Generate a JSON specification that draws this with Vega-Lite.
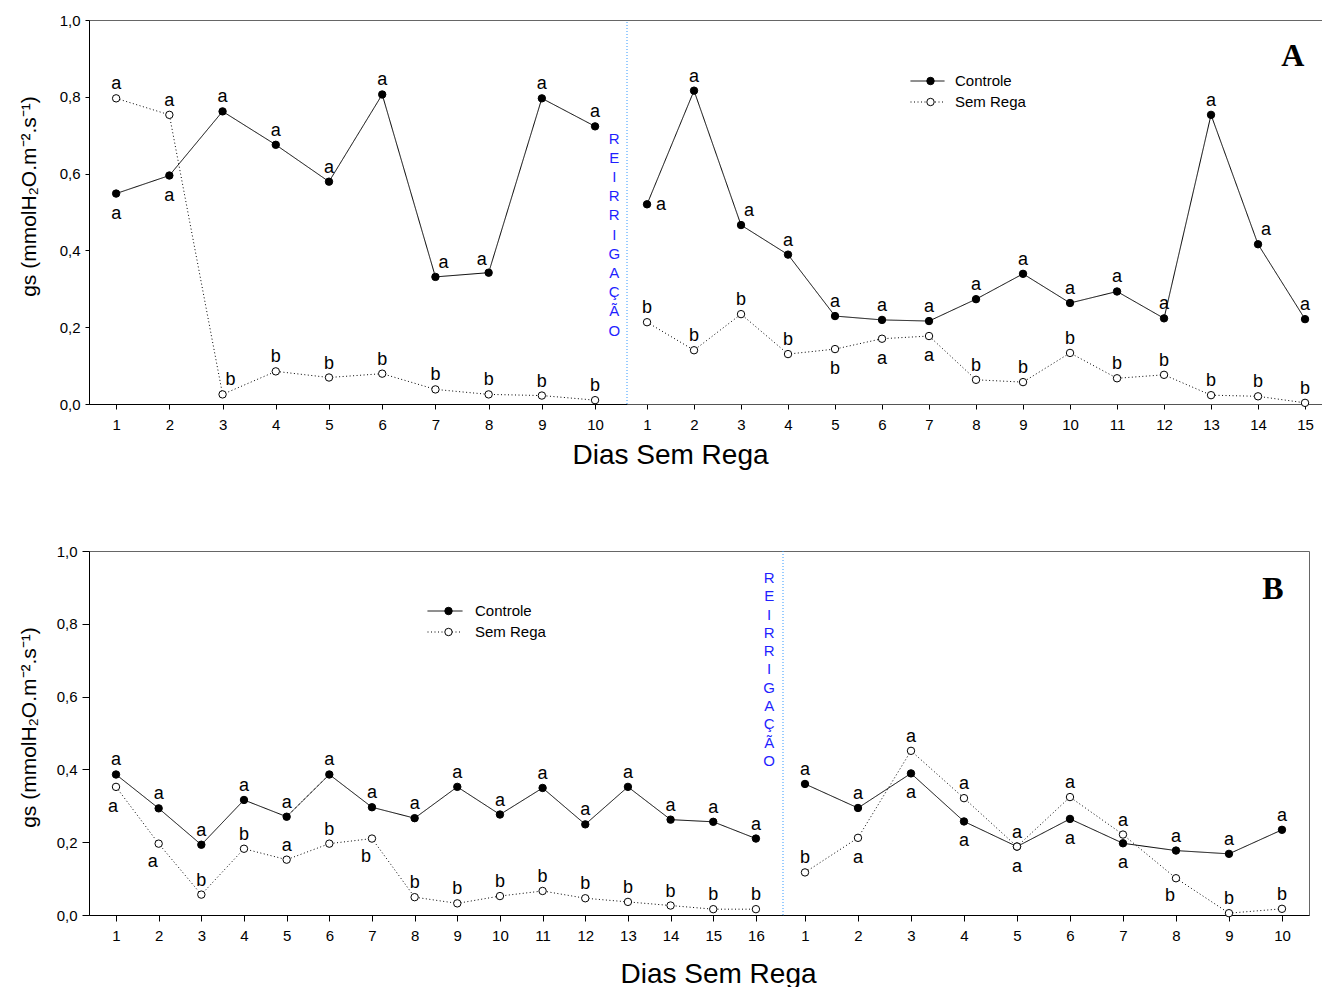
{
  "$schema": "https://vega.github.io/schema/vega-lite/v6.json",
  "padding": {"left": 17, "top": 12, "right": 0, "bottom": 0},
  "spacing": 73,
  "config": {
    "font": "Liberation Sans",
    "view": {"stroke": "#666", "strokeWidth": 1},
    "axis": {"grid": false, "domainColor": "black", "tickColor": "black", "labelColor": "black", "titleColor": "black", "labelFontSize": 15, "titleFontWeight": "normal", "labelFlush": false, "labelOverlap": false, "labelFont": "Liberation Sans", "titleFont": "Liberation Sans"},
    "text": {"color": "black", "font": "Liberation Sans"}
  },
  "datasets": {
    "d": [
      {"p":"A","f":"s","dia":1,"serie":"Controle","gs":0.548,"letra":"a","pos":"below"},
      {"p":"A","f":"s","dia":2,"serie":"Controle","gs":0.595,"letra":"a","pos":"below"},
      {"p":"A","f":"s","dia":3,"serie":"Controle","gs":0.762,"letra":"a","pos":"above"},
      {"p":"A","f":"s","dia":4,"serie":"Controle","gs":0.675,"letra":"a","pos":"above"},
      {"p":"A","f":"s","dia":5,"serie":"Controle","gs":0.579,"letra":"a","pos":"above"},
      {"p":"A","f":"s","dia":6,"serie":"Controle","gs":0.806,"letra":"a","pos":"above"},
      {"p":"A","f":"s","dia":7,"serie":"Controle","gs":0.331,"letra":"a","pos":"aboveright"},
      {"p":"A","f":"s","dia":8,"serie":"Controle","gs":0.342,"letra":"a","pos":"aboveleft"},
      {"p":"A","f":"s","dia":9,"serie":"Controle","gs":0.796,"letra":"a","pos":"above"},
      {"p":"A","f":"s","dia":10,"serie":"Controle","gs":0.723,"letra":"a","pos":"above"},
      {"p":"A","f":"s","dia":1,"serie":"Sem Rega","gs":0.796,"letra":"a","pos":"above"},
      {"p":"A","f":"s","dia":2,"serie":"Sem Rega","gs":0.753,"letra":"a","pos":"above"},
      {"p":"A","f":"s","dia":3,"serie":"Sem Rega","gs":0.025,"letra":"b","pos":"aboveright"},
      {"p":"A","f":"s","dia":4,"serie":"Sem Rega","gs":0.085,"letra":"b","pos":"above"},
      {"p":"A","f":"s","dia":5,"serie":"Sem Rega","gs":0.069,"letra":"b","pos":"above"},
      {"p":"A","f":"s","dia":6,"serie":"Sem Rega","gs":0.079,"letra":"b","pos":"above"},
      {"p":"A","f":"s","dia":7,"serie":"Sem Rega","gs":0.038,"letra":"b","pos":"above"},
      {"p":"A","f":"s","dia":8,"serie":"Sem Rega","gs":0.025,"letra":"b","pos":"above"},
      {"p":"A","f":"s","dia":9,"serie":"Sem Rega","gs":0.022,"letra":"b","pos":"above"},
      {"p":"A","f":"s","dia":10,"serie":"Sem Rega","gs":0.010,"letra":"b","pos":"above"},
      {"p":"A","f":"r","dia":1,"serie":"Controle","gs":0.520,"letra":"a","pos":"right"},
      {"p":"A","f":"r","dia":2,"serie":"Controle","gs":0.816,"letra":"a","pos":"above"},
      {"p":"A","f":"r","dia":3,"serie":"Controle","gs":0.466,"letra":"a","pos":"aboveright"},
      {"p":"A","f":"r","dia":4,"serie":"Controle","gs":0.389,"letra":"a","pos":"above"},
      {"p":"A","f":"r","dia":5,"serie":"Controle","gs":0.229,"letra":"a","pos":"above"},
      {"p":"A","f":"r","dia":6,"serie":"Controle","gs":0.219,"letra":"a","pos":"above"},
      {"p":"A","f":"r","dia":7,"serie":"Controle","gs":0.216,"letra":"a","pos":"above"},
      {"p":"A","f":"r","dia":8,"serie":"Controle","gs":0.273,"letra":"a","pos":"above"},
      {"p":"A","f":"r","dia":9,"serie":"Controle","gs":0.339,"letra":"a","pos":"above"},
      {"p":"A","f":"r","dia":10,"serie":"Controle","gs":0.263,"letra":"a","pos":"above"},
      {"p":"A","f":"r","dia":11,"serie":"Controle","gs":0.293,"letra":"a","pos":"above"},
      {"p":"A","f":"r","dia":12,"serie":"Controle","gs":0.223,"letra":"a","pos":"above"},
      {"p":"A","f":"r","dia":13,"serie":"Controle","gs":0.753,"letra":"a","pos":"above"},
      {"p":"A","f":"r","dia":14,"serie":"Controle","gs":0.416,"letra":"a","pos":"aboveright"},
      {"p":"A","f":"r","dia":15,"serie":"Controle","gs":0.221,"letra":"a","pos":"above"},
      {"p":"A","f":"r","dia":1,"serie":"Sem Rega","gs":0.213,"letra":"b","pos":"above"},
      {"p":"A","f":"r","dia":2,"serie":"Sem Rega","gs":0.140,"letra":"b","pos":"above"},
      {"p":"A","f":"r","dia":3,"serie":"Sem Rega","gs":0.234,"letra":"b","pos":"above"},
      {"p":"A","f":"r","dia":4,"serie":"Sem Rega","gs":0.130,"letra":"b","pos":"above"},
      {"p":"A","f":"r","dia":5,"serie":"Sem Rega","gs":0.143,"letra":"b","pos":"below"},
      {"p":"A","f":"r","dia":6,"serie":"Sem Rega","gs":0.170,"letra":"a","pos":"below"},
      {"p":"A","f":"r","dia":7,"serie":"Sem Rega","gs":0.177,"letra":"a","pos":"below"},
      {"p":"A","f":"r","dia":8,"serie":"Sem Rega","gs":0.063,"letra":"b","pos":"above"},
      {"p":"A","f":"r","dia":9,"serie":"Sem Rega","gs":0.057,"letra":"b","pos":"above"},
      {"p":"A","f":"r","dia":10,"serie":"Sem Rega","gs":0.133,"letra":"b","pos":"above"},
      {"p":"A","f":"r","dia":11,"serie":"Sem Rega","gs":0.067,"letra":"b","pos":"above"},
      {"p":"A","f":"r","dia":12,"serie":"Sem Rega","gs":0.076,"letra":"b","pos":"above"},
      {"p":"A","f":"r","dia":13,"serie":"Sem Rega","gs":0.023,"letra":"b","pos":"above"},
      {"p":"A","f":"r","dia":14,"serie":"Sem Rega","gs":0.020,"letra":"b","pos":"above"},
      {"p":"A","f":"r","dia":15,"serie":"Sem Rega","gs":0.003,"letra":"b","pos":"above"},
      {"p":"B","f":"s","dia":1,"serie":"Controle","gs":0.386,"letra":"a","pos":"above"},
      {"p":"B","f":"s","dia":2,"serie":"Controle","gs":0.293,"letra":"a","pos":"above"},
      {"p":"B","f":"s","dia":3,"serie":"Controle","gs":0.193,"letra":"a","pos":"above"},
      {"p":"B","f":"s","dia":4,"serie":"Controle","gs":0.316,"letra":"a","pos":"above"},
      {"p":"B","f":"s","dia":5,"serie":"Controle","gs":0.270,"letra":"a","pos":"above"},
      {"p":"B","f":"s","dia":6,"serie":"Controle","gs":0.386,"letra":"a","pos":"above"},
      {"p":"B","f":"s","dia":7,"serie":"Controle","gs":0.296,"letra":"a","pos":"above"},
      {"p":"B","f":"s","dia":8,"serie":"Controle","gs":0.266,"letra":"a","pos":"above"},
      {"p":"B","f":"s","dia":9,"serie":"Controle","gs":0.352,"letra":"a","pos":"above"},
      {"p":"B","f":"s","dia":10,"serie":"Controle","gs":0.276,"letra":"a","pos":"above"},
      {"p":"B","f":"s","dia":11,"serie":"Controle","gs":0.349,"letra":"a","pos":"above"},
      {"p":"B","f":"s","dia":12,"serie":"Controle","gs":0.249,"letra":"a","pos":"above"},
      {"p":"B","f":"s","dia":13,"serie":"Controle","gs":0.352,"letra":"a","pos":"above"},
      {"p":"B","f":"s","dia":14,"serie":"Controle","gs":0.262,"letra":"a","pos":"above"},
      {"p":"B","f":"s","dia":15,"serie":"Controle","gs":0.256,"letra":"a","pos":"above"},
      {"p":"B","f":"s","dia":16,"serie":"Controle","gs":0.210,"letra":"a","pos":"above"},
      {"p":"B","f":"s","dia":1,"serie":"Sem Rega","gs":0.352,"letra":"a","pos":"below"},
      {"p":"B","f":"s","dia":2,"serie":"Sem Rega","gs":0.196,"letra":"a","pos":"belowleft"},
      {"p":"B","f":"s","dia":3,"serie":"Sem Rega","gs":0.056,"letra":"b","pos":"above"},
      {"p":"B","f":"s","dia":4,"serie":"Sem Rega","gs":0.182,"letra":"b","pos":"above"},
      {"p":"B","f":"s","dia":5,"serie":"Sem Rega","gs":0.152,"letra":"a","pos":"above"},
      {"p":"B","f":"s","dia":6,"serie":"Sem Rega","gs":0.196,"letra":"b","pos":"above"},
      {"p":"B","f":"s","dia":7,"serie":"Sem Rega","gs":0.210,"letra":"b","pos":"belowleft"},
      {"p":"B","f":"s","dia":8,"serie":"Sem Rega","gs":0.049,"letra":"b","pos":"above"},
      {"p":"B","f":"s","dia":9,"serie":"Sem Rega","gs":0.032,"letra":"b","pos":"above"},
      {"p":"B","f":"s","dia":10,"serie":"Sem Rega","gs":0.052,"letra":"b","pos":"above"},
      {"p":"B","f":"s","dia":11,"serie":"Sem Rega","gs":0.066,"letra":"b","pos":"above"},
      {"p":"B","f":"s","dia":12,"serie":"Sem Rega","gs":0.046,"letra":"b","pos":"above"},
      {"p":"B","f":"s","dia":13,"serie":"Sem Rega","gs":0.036,"letra":"b","pos":"above"},
      {"p":"B","f":"s","dia":14,"serie":"Sem Rega","gs":0.026,"letra":"b","pos":"above"},
      {"p":"B","f":"s","dia":15,"serie":"Sem Rega","gs":0.016,"letra":"b","pos":"above"},
      {"p":"B","f":"s","dia":16,"serie":"Sem Rega","gs":0.016,"letra":"b","pos":"above"},
      {"p":"B","f":"r","dia":1,"serie":"Controle","gs":0.360,"letra":"a","pos":"above"},
      {"p":"B","f":"r","dia":2,"serie":"Controle","gs":0.294,"letra":"a","pos":"above"},
      {"p":"B","f":"r","dia":3,"serie":"Controle","gs":0.389,"letra":"a","pos":"below"},
      {"p":"B","f":"r","dia":4,"serie":"Controle","gs":0.257,"letra":"a","pos":"below"},
      {"p":"B","f":"r","dia":5,"serie":"Controle","gs":0.188,"letra":"a","pos":"below"},
      {"p":"B","f":"r","dia":6,"serie":"Controle","gs":0.264,"letra":"a","pos":"below"},
      {"p":"B","f":"r","dia":7,"serie":"Controle","gs":0.197,"letra":"a","pos":"below"},
      {"p":"B","f":"r","dia":8,"serie":"Controle","gs":0.177,"letra":"a","pos":"above"},
      {"p":"B","f":"r","dia":9,"serie":"Controle","gs":0.168,"letra":"a","pos":"above"},
      {"p":"B","f":"r","dia":10,"serie":"Controle","gs":0.234,"letra":"a","pos":"above"},
      {"p":"B","f":"r","dia":1,"serie":"Sem Rega","gs":0.117,"letra":"b","pos":"above"},
      {"p":"B","f":"r","dia":2,"serie":"Sem Rega","gs":0.212,"letra":"a","pos":"below"},
      {"p":"B","f":"r","dia":3,"serie":"Sem Rega","gs":0.451,"letra":"a","pos":"above"},
      {"p":"B","f":"r","dia":4,"serie":"Sem Rega","gs":0.321,"letra":"a","pos":"above"},
      {"p":"B","f":"r","dia":5,"serie":"Sem Rega","gs":0.188,"letra":"a","pos":"above"},
      {"p":"B","f":"r","dia":6,"serie":"Sem Rega","gs":0.324,"letra":"a","pos":"above"},
      {"p":"B","f":"r","dia":7,"serie":"Sem Rega","gs":0.221,"letra":"a","pos":"above"},
      {"p":"B","f":"r","dia":8,"serie":"Sem Rega","gs":0.101,"letra":"b","pos":"belowleft"},
      {"p":"B","f":"r","dia":9,"serie":"Sem Rega","gs":0.005,"letra":"b","pos":"above"},
      {"p":"B","f":"r","dia":10,"serie":"Sem Rega","gs":0.017,"letra":"b","pos":"above"}
    ]
  },
  "data": {"name": "d"},
  "resolve": {"scale": {"fill": "independent", "strokeDash": "independent"}, "legend": {"fill": "independent", "strokeDash": "independent"}},
  "vconcat": [
    {
      "width": 1233,
      "height": 384,
      "resolve": {"scale": {"x": "independent"}, "axis": {"x": "independent"}},
      "encoding": {"y": {"field": "gs", "type": "quantitative", "scale": {"domain": [0, 1]}, "axis": {"values": [0, 0.2, 0.4, 0.6, 0.8, 1], "labelExpr": "replace(format(datum.value,'.1f'),'.',',')", "title": "gs (mmolH₂O.m⁻².s⁻¹)", "titleFontSize": 21, "titlePadding": 20, "titleY": 176, "tickSize": 4, "labelPadding": 5, "labelFontSize": 15}}},
      "layer": [
        {
          "encoding": {"x": {"field": "dia", "type": "quantitative", "scale": {"domain": [0.49, 10.6], "range": [0, 538], "nice": false, "zero": false}, "axis": {"orient": "bottom", "values": [1,2,3,4,5,6,7,8,9,10], "format": "d", "tickSize": 5, "labelPadding": 8, "labelFontSize": 15, "title": "Dias Sem Rega", "titleFontSize": 28, "titleX": 581, "titlePadding": 9}}},
          "layer": [
            {"transform": [{"filter": "datum.p=='A' && datum.f=='s' && datum.dia==1 && datum.serie=='Controle'"}], "mark": {"type": "rule", "color": "#3399ff", "strokeDash": [1, 2], "strokeWidth": 1}, "encoding": {"x": {"datum": 10.6, "axis": {"title": "Dias Sem Rega"}}, "y": {"datum": 0, "axis": {"title": "gs (mmolH₂O.m⁻².s⁻¹)"}}, "y2": {"datum": 1}}},
            {"transform": [{"filter": "datum.p=='A' && datum.f=='s' && datum.dia==1 && datum.serie=='Controle'"}], "mark": {"type": "text", "text": ["R","E","I","R","R","I","G","A","Ç","Ã","O"], "lineHeight": 19.2, "fontSize": 15, "color": "#1f1fff", "align": "center", "baseline": "middle"}, "encoding": {"x": {"datum": 10.36, "axis": {"title": "Dias Sem Rega"}}, "y": {"datum": 0.691, "axis": {"title": "gs (mmolH₂O.m⁻².s⁻¹)"}}}},
            {"transform": [{"filter": "datum.p=='A' && datum.f=='s'"}], "mark": {"type": "line", "color": "black", "strokeWidth": 1}, "encoding": {"strokeDash": {"field": "serie", "type": "nominal", "scale": {"domain": ["Sem Rega", "Controle"], "range": [[1, 2.5], [1, 0]]}, "legend": {"title": null, "orient": "none", "legendX": 821, "legendY": 54, "clipHeight": 14, "rowPadding": 6, "padding": 0, "labelFontSize": 15, "labelOffset": 10, "labelColor": "black", "symbolType": "stroke", "symbolSize": 1156, "symbolStrokeWidth": 1, "symbolStrokeColor": "black", "values": ["Controle", "Sem Rega"], "zindex": 0}}}},
            {"transform": [{"filter": "datum.p=='A' && datum.f=='s'"}], "mark": {"type": "point", "shape": "circle", "filled": true, "stroke": "black", "strokeWidth": 1, "size": 55, "opacity": 1}, "encoding": {"fill": {"field": "serie", "type": "nominal", "scale": {"domain": ["Controle", "Sem Rega"], "range": ["black", "white"]}, "legend": {"title": null, "orient": "none", "legendX": 834, "legendY": 54, "clipHeight": 14, "rowPadding": 6, "padding": 0, "labelFontSize": 15, "labelOpacity": 0, "labelExpr": "''", "symbolType": "circle", "symbolSize": 55, "symbolStrokeWidth": 1, "symbolStrokeColor": "black", "symbolOpacity": 1, "zindex": 1}}}},
            {"transform": [{"filter": "datum.p=='A' && datum.f=='s' && datum.pos=='above'"}], "mark": {"type": "text", "fontSize": 18, "baseline": "alphabetic", "dy": -9}, "encoding": {"text": {"field": "letra"}}},
            {"transform": [{"filter": "datum.p=='A' && datum.f=='s' && datum.pos=='below'"}], "mark": {"type": "text", "fontSize": 18, "baseline": "alphabetic", "dy": 25}, "encoding": {"text": {"field": "letra"}}},
            {"transform": [{"filter": "datum.p=='A' && datum.f=='s' && datum.pos=='aboveright'"}], "mark": {"type": "text", "fontSize": 18, "baseline": "alphabetic", "dx": 8, "dy": -9}, "encoding": {"text": {"field": "letra"}}},
            {"transform": [{"filter": "datum.p=='A' && datum.f=='s' && datum.pos=='aboveleft'"}], "mark": {"type": "text", "fontSize": 18, "baseline": "alphabetic", "dx": -7, "dy": -8}, "encoding": {"text": {"field": "letra"}}}
          ]
        },
        {
          "encoding": {"x": {"field": "dia", "type": "quantitative", "scale": {"domain": [0.574, 15.361], "range": [538, 1233], "nice": false, "zero": false}, "axis": {"orient": "bottom", "values": [1,2,3,4,5,6,7,8,9,10,11,12,13,14,15], "format": "d", "tickSize": 5, "labelPadding": 8, "labelFontSize": 15, "title": null, "domainColor": "#555"}}},
          "layer": [
            {"transform": [{"filter": "datum.p=='A' && datum.f=='r' && datum.dia==1 && datum.serie=='Controle'"}], "mark": {"type": "text", "text": "A", "font": "Liberation Serif", "fontWeight": "bold", "fontSize": 32, "align": "center", "baseline": "middle"}, "encoding": {"x": {"datum": 14.74, "axis": {"title": null}}, "y": {"datum": 0.907, "axis": {"title": "gs (mmolH₂O.m⁻².s⁻¹)"}}}},
            {"transform": [{"filter": "datum.p=='A' && datum.f=='r'"}], "mark": {"type": "line", "color": "black", "strokeWidth": 1}, "encoding": {"strokeDash": {"field": "serie", "type": "nominal", "scale": {"domain": ["Sem Rega", "Controle"], "range": [[1, 2.5], [1, 0]]}, "legend": {"title": null, "orient": "none", "legendX": 821, "legendY": 54, "clipHeight": 14, "rowPadding": 6, "padding": 0, "labelFontSize": 15, "labelOffset": 10, "labelColor": "black", "symbolType": "stroke", "symbolSize": 1156, "symbolStrokeWidth": 1, "symbolStrokeColor": "black", "values": ["Controle", "Sem Rega"], "zindex": 0}}}},
            {"transform": [{"filter": "datum.p=='A' && datum.f=='r'"}], "mark": {"type": "point", "shape": "circle", "filled": true, "stroke": "black", "strokeWidth": 1, "size": 55, "opacity": 1}, "encoding": {"fill": {"field": "serie", "type": "nominal", "scale": {"domain": ["Controle", "Sem Rega"], "range": ["black", "white"]}, "legend": {"title": null, "orient": "none", "legendX": 834, "legendY": 54, "clipHeight": 14, "rowPadding": 6, "padding": 0, "labelFontSize": 15, "labelOpacity": 0, "labelExpr": "''", "symbolType": "circle", "symbolSize": 55, "symbolStrokeWidth": 1, "symbolStrokeColor": "black", "symbolOpacity": 1, "zindex": 1}}}},
            {"transform": [{"filter": "datum.p=='A' && datum.f=='r' && datum.pos=='above'"}], "mark": {"type": "text", "fontSize": 18, "baseline": "alphabetic", "dy": -9}, "encoding": {"text": {"field": "letra"}}},
            {"transform": [{"filter": "datum.p=='A' && datum.f=='r' && datum.pos=='below'"}], "mark": {"type": "text", "fontSize": 18, "baseline": "alphabetic", "dy": 25}, "encoding": {"text": {"field": "letra"}}},
            {"transform": [{"filter": "datum.p=='A' && datum.f=='r' && datum.pos=='aboveright'"}], "mark": {"type": "text", "fontSize": 18, "baseline": "alphabetic", "dx": 8, "dy": -9}, "encoding": {"text": {"field": "letra"}}},
            {"transform": [{"filter": "datum.p=='A' && datum.f=='r' && datum.pos=='right'"}], "mark": {"type": "text", "fontSize": 18, "baseline": "alphabetic", "dx": 14, "dy": 6}, "encoding": {"text": {"field": "letra"}}}
          ]
        }
      ]
    },
    {
      "width": 1220,
      "height": 364,
      "resolve": {"scale": {"x": "independent"}, "axis": {"x": "independent"}},
      "encoding": {"y": {"field": "gs", "type": "quantitative", "scale": {"domain": [0, 1]}, "axis": {"values": [0, 0.2, 0.4, 0.6, 0.8, 1], "labelExpr": "replace(format(datum.value,'.1f'),'.',',')", "title": "gs (mmolH₂O.m⁻².s⁻¹)", "titleFontSize": 21, "titlePadding": 17, "titleY": 176, "tickSize": 7, "labelPadding": 5, "labelFontSize": 15}}},
      "layer": [
        {
          "encoding": {"x": {"field": "dia", "type": "quantitative", "scale": {"domain": [0.367, 16.635], "range": [0, 694], "nice": false, "zero": false}, "axis": {"orient": "bottom", "values": [1,2,3,4,5,6,7,8,9,10,11,12,13,14,15,16], "format": "d", "tickSize": 6, "labelPadding": 7, "labelFontSize": 15, "title": "Dias Sem Rega", "titleFontSize": 28, "titleX": 629, "titlePadding": 17}}},
          "layer": [
            {"transform": [{"filter": "datum.p=='B' && datum.f=='s' && datum.dia==1 && datum.serie=='Controle'"}], "mark": {"type": "rule", "color": "#3399ff", "strokeDash": [1, 2], "strokeWidth": 1}, "encoding": {"x": {"datum": 16.635, "axis": {"title": "Dias Sem Rega"}}, "y": {"datum": 0, "axis": {"title": "gs (mmolH₂O.m⁻².s⁻¹)"}}, "y2": {"datum": 1}}},
            {"transform": [{"filter": "datum.p=='B' && datum.f=='s' && datum.dia==1 && datum.serie=='Controle'"}], "mark": {"type": "text", "text": ["R","E","I","R","R","I","G","A","Ç","Ã","O"], "lineHeight": 18.3, "fontSize": 15, "color": "#1f1fff", "align": "center", "baseline": "middle"}, "encoding": {"x": {"datum": 16.31, "axis": {"title": "Dias Sem Rega"}}, "y": {"datum": 0.926, "axis": {"title": "gs (mmolH₂O.m⁻².s⁻¹)"}}}},
            {"transform": [{"filter": "datum.p=='B' && datum.f=='s'"}], "mark": {"type": "line", "color": "black", "strokeWidth": 1}, "encoding": {"strokeDash": {"field": "serie", "type": "nominal", "scale": {"domain": ["Sem Rega", "Controle"], "range": [[1, 2.5], [1, 0]]}, "legend": {"title": null, "orient": "none", "legendX": 338, "legendY": 53, "clipHeight": 14, "rowPadding": 6, "padding": 0, "labelFontSize": 15, "labelOffset": 12, "labelColor": "black", "symbolType": "stroke", "symbolSize": 1225, "symbolStrokeWidth": 1, "symbolStrokeColor": "black", "values": ["Controle", "Sem Rega"], "zindex": 0}}}},
            {"transform": [{"filter": "datum.p=='B' && datum.f=='s'"}], "mark": {"type": "point", "shape": "circle", "filled": true, "stroke": "black", "strokeWidth": 1, "size": 55, "opacity": 1}, "encoding": {"fill": {"field": "serie", "type": "nominal", "scale": {"domain": ["Controle", "Sem Rega"], "range": ["black", "white"]}, "legend": {"title": null, "orient": "none", "legendX": 352, "legendY": 53, "clipHeight": 14, "rowPadding": 6, "padding": 0, "labelFontSize": 15, "labelOpacity": 0, "labelExpr": "''", "symbolType": "circle", "symbolSize": 55, "symbolStrokeWidth": 1, "symbolStrokeColor": "black", "symbolOpacity": 1, "zindex": 1}}}},
            {"transform": [{"filter": "datum.p=='B' && datum.f=='s' && datum.pos=='above'"}], "mark": {"type": "text", "fontSize": 18, "baseline": "alphabetic", "dy": -9}, "encoding": {"text": {"field": "letra"}}},
            {"transform": [{"filter": "datum.p=='B' && datum.f=='s' && datum.pos=='below'"}], "mark": {"type": "text", "fontSize": 18, "baseline": "alphabetic", "dx": -3, "dy": 25}, "encoding": {"text": {"field": "letra"}}},
            {"transform": [{"filter": "datum.p=='B' && datum.f=='s' && datum.pos=='belowleft'"}], "mark": {"type": "text", "fontSize": 18, "baseline": "alphabetic", "dx": -6, "dy": 23}, "encoding": {"text": {"field": "letra"}}}
          ]
        },
        {
          "encoding": {"x": {"field": "dia", "type": "quantitative", "scale": {"domain": [0.585, 10.51], "range": [694, 1220], "nice": false, "zero": false}, "axis": {"orient": "bottom", "values": [1,2,3,4,5,6,7,8,9,10], "format": "d", "tickSize": 6, "labelPadding": 7, "labelFontSize": 15, "title": null}}},
          "layer": [
            {"transform": [{"filter": "datum.p=='B' && datum.f=='r' && datum.dia==1 && datum.serie=='Controle'"}], "mark": {"type": "text", "text": "B", "font": "Liberation Serif", "fontWeight": "bold", "fontSize": 32, "align": "center", "baseline": "middle"}, "encoding": {"x": {"datum": 9.83, "axis": {"title": null}}, "y": {"datum": 0.896, "axis": {"title": "gs (mmolH₂O.m⁻².s⁻¹)"}}}},
            {"transform": [{"filter": "datum.p=='B' && datum.f=='r'"}], "mark": {"type": "line", "color": "black", "strokeWidth": 1}, "encoding": {"strokeDash": {"field": "serie", "type": "nominal", "scale": {"domain": ["Sem Rega", "Controle"], "range": [[1, 2.5], [1, 0]]}, "legend": {"title": null, "orient": "none", "legendX": 338, "legendY": 53, "clipHeight": 14, "rowPadding": 6, "padding": 0, "labelFontSize": 15, "labelOffset": 12, "labelColor": "black", "symbolType": "stroke", "symbolSize": 1225, "symbolStrokeWidth": 1, "symbolStrokeColor": "black", "values": ["Controle", "Sem Rega"], "zindex": 0}}}},
            {"transform": [{"filter": "datum.p=='B' && datum.f=='r'"}], "mark": {"type": "point", "shape": "circle", "filled": true, "stroke": "black", "strokeWidth": 1, "size": 55, "opacity": 1}, "encoding": {"fill": {"field": "serie", "type": "nominal", "scale": {"domain": ["Controle", "Sem Rega"], "range": ["black", "white"]}, "legend": {"title": null, "orient": "none", "legendX": 352, "legendY": 53, "clipHeight": 14, "rowPadding": 6, "padding": 0, "labelFontSize": 15, "labelOpacity": 0, "labelExpr": "''", "symbolType": "circle", "symbolSize": 55, "symbolStrokeWidth": 1, "symbolStrokeColor": "black", "symbolOpacity": 1, "zindex": 1}}}},
            {"transform": [{"filter": "datum.p=='B' && datum.f=='r' && datum.pos=='above'"}], "mark": {"type": "text", "fontSize": 18, "baseline": "alphabetic", "dy": -9}, "encoding": {"text": {"field": "letra"}}},
            {"transform": [{"filter": "datum.p=='B' && datum.f=='r' && datum.pos=='below'"}], "mark": {"type": "text", "fontSize": 18, "baseline": "alphabetic", "dy": 25}, "encoding": {"text": {"field": "letra"}}},
            {"transform": [{"filter": "datum.p=='B' && datum.f=='r' && datum.pos=='belowleft'"}], "mark": {"type": "text", "fontSize": 18, "baseline": "alphabetic", "dx": -6, "dy": 23}, "encoding": {"text": {"field": "letra"}}}
          ]
        }
      ]
    }
  ]
}
